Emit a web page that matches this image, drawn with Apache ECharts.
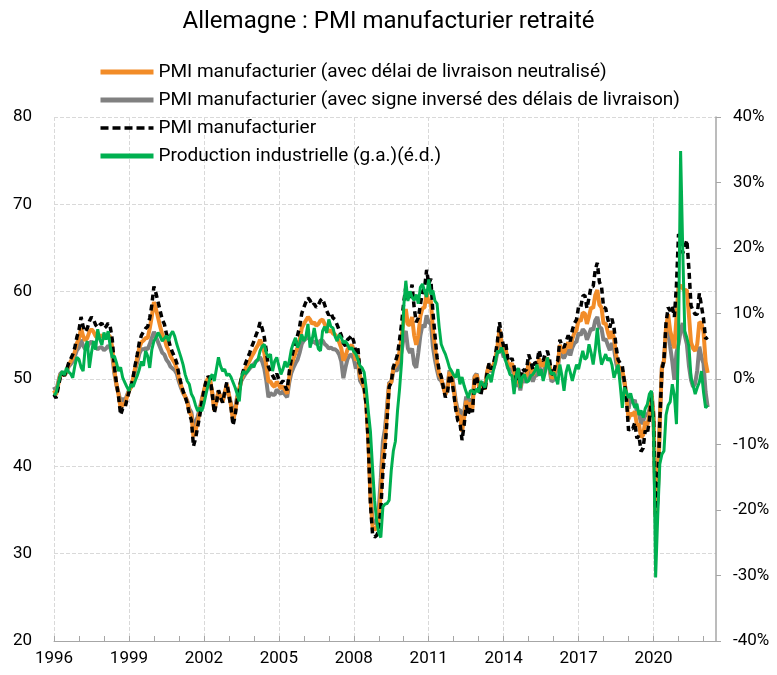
<!DOCTYPE html>
<html><head><meta charset="utf-8">
<script src="https://cdn.jsdelivr.net/npm/echarts@6/dist/echarts.min.js"></script>
<style>html,body{margin:0;padding:0;background:#fff}#c{width:777px;height:675px}</style>
</head><body><div id="c"></div>
<script>
const FONT = "Roboto, 'Liberation Sans', sans-serif";
// Monthly categories: March 1996 .. September 2022
const startYear = 1996, startMonth = 3, nMonths = 319;
const months = [];
for (let i = 0; i < nMonths; i++) { const m = startMonth - 1 + i; months.push((startYear + Math.floor(m / 12)) + '-' + String(m % 12 + 1).padStart(2, '0')); }
const tickYears = ['1996','1999','2002','2005','2008','2011','2014','2017','2020'];
const leftTicks = [20, 30, 40, 50, 60, 70, 80];
const rightTicks = [-40, -30, -20, -10, 0, 10, 20, 30, 40];

const names = [
  'PMI manufacturier (avec délai de livraison neutralisé)',
  'PMI manufacturier (avec signe inversé des délais de livraison)',
  'PMI manufacturier',
  'Production industrielle (g.a.)(é.d.)'
];

// PMI manufacturier (dashed), from Mar 1996
const pmi = [
48.2,47.8,49.0,50.2,50.6,50.4,51.0,51.8,52.3,52.8,
53.6,54.8,55.6,57.1,56.0,55.4,55.8,56.6,57.1,56.8,56.2,55.9,
56.2,56.4,55.8,56.0,56.4,56.0,54.5,51.4,49.5,48.0,45.9,46.6,
46.6,47.6,48.5,49.1,50.2,51.6,52.8,54.2,55.0,55.4,55.8,56.0,
57.0,58.5,60.6,59.8,58.8,57.8,56.8,56.3,55.2,54.5,53.6,53.0,
52.5,51.8,50.5,49.5,48.6,48.0,47.2,46.0,45.3,42.3,43.2,44.5,
45.8,47.3,48.6,49.7,50.3,50.1,48.4,46.1,47.2,48.7,47.9,47.3,
48.5,49.6,48.2,46.8,44.7,45.8,47.6,48.8,50.2,51.0,51.8,52.4,
53.0,53.7,54.3,55.0,55.6,56.5,55.8,54.8,53.2,51.4,50.9,50.4,
50.0,50.6,50.0,49.5,49.8,49.2,48.7,50.8,52.3,53.3,54.2,55.0,
56.0,57.5,58.2,58.8,59.3,59.0,58.4,58.6,58.2,58.5,59.0,59.2,
58.5,57.8,57.3,57.6,57.0,56.8,56.2,55.6,55.0,54.1,53.8,54.5,
54.7,55.0,54.3,53.0,53.5,50.8,50.0,49.1,47.0,42.5,35.7,32.3,
31.9,32.1,32.6,35.2,39.4,41.8,45.4,49.1,49.6,51.4,52.0,52.8,
54.5,56.4,58.8,60.5,59.0,59.5,60.8,58.2,56.5,57.0,58.5,60.0,
60.4,62.5,60.9,61.5,57.7,55.0,52.5,51.0,50.3,49.1,47.9,48.4,
50.5,50.0,48.4,46.5,45.2,45.0,43.0,44.7,47.0,46.0,46.8,46.2,
49.8,50.3,49.0,48.1,49.4,48.6,50.7,51.8,51.1,51.7,52.7,54.3,
56.5,54.8,53.7,54.1,52.3,52.0,52.4,51.4,49.9,51.4,49.5,51.2,
50.9,51.1,52.8,52.1,51.1,51.9,51.8,53.3,52.3,52.1,52.9,53.2,
52.3,50.5,50.7,51.8,52.1,54.5,53.8,53.6,54.3,55.0,54.3,55.6,
56.4,56.8,58.3,58.2,59.5,59.6,58.1,59.3,60.6,60.6,62.5,63.3,
61.1,60.6,58.2,58.1,56.9,55.9,56.9,55.9,53.7,52.2,51.8,51.5,
49.7,47.6,44.1,44.4,44.3,45.0,43.2,43.5,41.7,42.1,44.1,43.7,
45.3,48.0,45.4,34.5,36.6,45.2,51.0,52.2,56.4,58.2,57.8,58.3,
57.1,60.7,66.6,66.2,64.4,65.1,65.9,62.6,58.4,57.8,57.4,57.4,
59.8,58.4,56.9,54.6,54.8
];

// PMI with delivery times neutralised (orange)
const pmiNeutral = [
48.7,48.2,49.3,50.4,50.7,50.4,50.9,51.6,52.0,52.4,
53.1,54.1,54.6,55.8,54.9,54.4,54.7,55.4,55.7,55.4,54.9,54.7,
54.9,55.0,54.6,54.8,55.1,54.8,53.6,51.0,49.4,48.2,46.7,47.2,
47.0,47.9,48.6,49.1,50.1,51.3,52.4,53.6,54.2,54.4,54.7,54.7,
55.8,57.2,58.8,58.0,57.0,56.0,55.1,54.7,53.8,53.3,52.6,52.2,
51.8,51.2,50.1,49.3,48.5,48.0,47.4,46.3,45.8,43.4,44.1,45.1,
46.2,47.5,48.6,49.6,50.1,49.9,48.4,46.4,47.4,48.6,47.9,47.4,
48.4,49.4,48.2,47.0,45.2,46.2,47.8,48.8,50.0,50.6,51.2,51.7,
52.1,52.6,53.0,53.5,53.9,54.5,53.9,53.0,51.5,49.7,49.7,49.3,
49.1,49.7,49.3,48.9,49.2,48.7,48.3,50.2,51.5,52.3,53.0,53.6,
54.5,55.8,56.3,56.7,57.1,56.8,56.3,56.5,56.1,56.3,56.7,56.8,
56.3,55.8,55.4,55.6,55.2,55.1,54.7,54.2,53.5,52.1,52.6,53.4,
53.7,53.9,53.3,52.1,52.7,50.3,49.7,49.0,47.1,43.0,36.5,33.1,
32.7,33.0,33.9,37.0,41.2,43.1,46.2,49.4,49.6,51.2,51.5,51.9,
53.2,54.8,56.8,58.0,56.2,56.2,57.1,55.0,53.9,55.0,57.2,58.1,
58.2,59.9,58.7,59.0,55.7,53.6,51.8,50.5,50.1,49.1,48.2,48.8,
50.8,50.3,48.8,47.0,45.8,45.8,44.0,45.5,47.5,46.5,47.3,46.6,
50.1,50.5,49.3,48.4,49.6,48.8,50.7,51.7,51.0,51.5,52.3,53.7,
55.7,54.1,53.1,53.4,51.8,51.5,51.8,50.9,49.5,50.8,49.1,50.6,
50.3,50.4,51.9,51.3,50.4,51.2,51.1,52.4,51.6,51.5,52.2,52.4,
51.7,50.1,50.3,51.3,51.6,53.9,53.2,53.0,53.6,54.2,53.5,54.6,
55.3,55.6,56.8,56.6,57.6,57.5,56.3,57.2,58.2,58.1,59.6,60.2,
58.5,58.2,56.3,56.4,55.4,54.6,55.5,54.7,52.8,51.5,51.2,51.0,
49.7,47.9,45.4,46.1,45.8,46.3,44.7,44.8,43.3,43.6,45.1,44.7,
45.9,48.3,45.7,34.4,36.4,45.2,51.2,52.1,55.9,57.4,55.5,54.6,
53.5,57.0,60.6,60.7,60.4,60.1,60.2,57.3,54.2,53.5,53.2,54.0,
56.5,56.4,55.4,52.0,50.7
];

// PMI with inverted sign of delivery times (grey)
const pmiInverted = [
49.1,48.6,49.6,50.6,50.8,50.4,50.8,51.4,51.7,52.0,
52.6,53.3,53.6,54.5,53.8,53.4,53.6,54.1,54.3,54.0,53.6,53.4,
53.6,53.6,53.3,53.5,53.8,53.6,52.7,50.6,49.3,48.4,47.4,47.8,
47.4,48.1,48.7,49.1,49.9,51.0,51.9,52.9,53.4,53.4,53.5,53.4,
54.0,54.7,55.4,54.8,54.2,53.6,53.0,52.8,52.2,51.9,51.4,51.2,
51.0,50.6,49.7,49.0,48.4,48.0,47.5,46.6,46.2,44.5,45.0,45.7,
46.6,47.7,48.6,49.4,49.8,49.7,48.4,46.7,47.5,48.5,47.9,47.5,
48.3,49.2,48.2,47.2,45.7,46.6,48.0,48.8,49.8,50.2,50.6,50.9,
51.2,51.5,51.7,52.0,52.2,52.5,52.0,51.2,49.8,47.9,48.4,48.2,
48.2,48.8,48.5,48.3,48.6,48.2,47.9,49.6,50.7,51.3,51.8,52.2,
53.0,54.0,54.4,54.6,54.8,54.5,54.2,54.3,54.0,54.1,54.4,54.4,
54.0,53.8,53.5,53.6,53.4,53.4,53.2,52.8,52.0,50.1,51.3,52.3,
52.7,52.8,52.3,51.2,51.9,49.8,49.4,48.9,47.2,43.5,37.2,33.8,
33.4,33.9,35.1,38.7,42.9,44.3,46.9,49.6,49.6,50.9,51.0,51.0,
52.0,53.2,54.8,55.5,53.5,53.0,53.5,51.7,51.3,53.0,55.0,56.2,
55.9,57.3,56.4,56.5,53.7,52.2,51.0,50.0,49.8,49.1,48.4,49.2,
51.0,50.6,49.2,47.5,46.4,46.5,45.0,46.2,48.0,47.0,47.8,47.0,
50.3,50.6,49.5,48.7,49.7,48.9,50.7,51.5,50.8,51.2,51.9,53.1,
54.9,53.4,52.5,52.7,51.3,51.0,51.2,50.4,49.1,50.2,48.7,50.0,
49.7,49.7,51.0,50.5,49.7,50.4,50.4,51.5,50.8,50.8,51.4,51.6,
51.1,49.7,49.9,50.8,51.1,53.3,52.6,52.4,52.9,53.4,52.7,53.6,
54.1,54.3,55.3,55.0,55.7,55.4,54.5,55.1,55.8,55.6,56.7,57.1,
55.9,55.8,54.4,54.6,53.9,53.3,54.1,53.5,51.9,50.8,50.6,50.5,
49.7,48.1,46.6,47.8,47.3,47.6,46.2,46.1,44.9,45.1,46.1,45.7,
46.5,48.5,45.9,34.2,36.1,45.2,51.4,52.0,55.4,56.6,53.7,52.0,
49.9,53.0,54.0,55.5,56.4,55.0,54.0,51.5,49.9,49.1,49.5,51.0,
53.7,52.5,51.8,48.5,46.8
];

// Industrial production, % y/y (right axis, green)
const indProd = [
-2.5,-2.1,-0.8,0.5,1.2,0.6,1.7,1.1,0.8,0.2,
2.0,3.3,3.0,1.8,1.2,4.8,5.8,1.7,4.0,5.8,4.5,7.6,
6.0,5.2,7.1,6.0,7.3,5.0,3.3,3.5,2.5,1.2,1.8,0.2,
-0.5,-1.2,-1.8,-0.8,-1.2,-0.3,0.5,1.5,2.7,2.0,4.3,3.5,
1.7,4.5,5.8,6.3,7.1,6.5,5.8,6.2,6.6,5.8,6.8,7.3,
6.5,5.3,4.3,3.3,2.2,0.7,-0.3,-0.8,-2.3,-2.9,-4.0,-4.9,
-4.4,-4.9,-3.8,-2.3,-1.0,0.2,0.7,-0.3,1.5,3.3,2.0,1.2,
1.5,0.5,0.8,0.3,-0.5,-1.3,-2.3,-3.4,0.2,1.2,0.8,1.2,
1.7,2.2,1.8,2.7,3.0,4.3,5.0,5.3,4.0,3.3,3.8,1.2,
2.7,3.3,2.0,0.7,1.5,2.7,1.8,2.7,4.5,5.5,6.3,4.8,
5.5,6.8,5.8,6.5,8.4,4.8,6.0,7.8,6.0,4.6,4.3,7.3,
8.0,7.0,9.1,8.0,7.8,6.5,5.8,6.8,6.3,5.5,5.8,5.3,
4.5,4.8,4.2,3.8,3.0,2.0,1.7,1.0,-1.5,-5.0,-8.0,-13.5,
-18.5,-21.7,-23.5,-24.2,-19.5,-19.1,-19.0,-18.5,-14.0,-11.0,-9.5,-4.9,
-1.5,2.7,11.0,15.0,11.9,13.4,12.5,12.0,12.9,11.5,14.0,14.5,
13.4,12.5,15.2,12.9,13.5,11.9,11.5,8.0,5.3,4.5,3.8,2.8,
1.7,1.2,0.6,0.2,1.5,-0.8,0.3,-1.0,-2.0,-2.9,-1.8,-1.8,
-2.3,-1.5,-2.0,-0.3,-0.8,-1.3,0.2,0.7,-0.5,1.2,2.5,4.3,
4.0,4.8,3.8,2.7,1.8,0.7,0.5,-2.3,0.5,1.7,-1.4,0.3,
0.7,-0.5,-0.3,0.5,0.7,1.2,2.2,0.5,1.5,-0.3,1.0,3.3,
1.5,0.7,1.0,0.2,-0.8,2.2,0.5,-1.8,1.0,2.2,1.0,-0.3,
1.0,2.2,1.5,3.0,4.3,3.0,3.3,5.3,4.0,2.2,4.5,7.8,
4.3,2.2,3.0,3.8,2.8,3.2,2.2,0.2,1.2,2.2,-1.0,-4.4,
-1.3,-2.0,-2.9,-2.2,-3.5,-4.4,-3.8,-5.5,-4.8,-5.9,-4.5,-3.9,
-2.3,-1.8,-6.9,-30.3,-21.0,-13.0,-11.5,-11.0,-5.5,-4.0,-3.5,-0.8,
-2.5,-6.9,6.0,34.8,20.0,7.3,6.3,5.0,0.2,-1.0,-2.3,-1.3,
-0.5,1.2,-2.0,-4.4,-4.0
];

const chart = echarts.init(document.getElementById('c'), null, {renderer: 'canvas'});
const axisTxt = {color: '#000', fontSize: 17, fontFamily: FONT};
chart.setOption({
  animation: false,
  backgroundColor: '#fff',
  textStyle: {fontFamily: FONT},
  title: {
    text: 'Allemagne : PMI manufacturier retraité',
    left: 'center', top: 5,
    textStyle: {fontSize: 24, fontWeight: 'normal', color: '#000', fontFamily: FONT}
  },
  legend: {
    orient: 'vertical', left: 93, top: 55,
    itemWidth: 53, itemHeight: 14, itemGap: 4,
    data: [
      {name: names[0]},
      {name: names[1]},
      {name: names[2], lineStyle: {width: 3.5, type: [8, 4]}},
      {name: names[3]}
    ],
    itemStyle: {opacity: 0},
    lineStyle: {width: 5},
    textStyle: {fontSize: 19, lineHeight: 24, color: '#000', fontFamily: FONT}
  },
  grid: {left: 54, right: 61, top: 117, bottom: 34, containLabel: false},
  xAxis: {
    type: 'category', data: months, boundaryGap: false,
    axisLine: {onZero: false, lineStyle: {color: '#a6a6a6', width: 1}},
    axisTick: {show: true, inside: true, length: 5, interval: (i) => i % 12 === 0, lineStyle: {color: '#a6a6a6'}},
    axisLabel: Object.assign({interval: (i) => i % 36 === 0, formatter: (v) => v.slice(0, 4), margin: 9}, axisTxt),
    splitLine: {show: true, interval: (i) => i % 36 === 0, lineStyle: {color: '#d9d9d9', type: 'dashed', width: 1}}
  },
  yAxis: [
    {
      type: 'value', position: 'left', min: leftTicks[0], max: leftTicks[leftTicks.length - 1], interval: 10,
      axisLine: {show: false}, axisTick: {show: false},
      axisLabel: Object.assign({margin: 22}, axisTxt),
      splitLine: {show: true, lineStyle: {color: '#d9d9d9', type: 'dashed', width: 1}}
    },
    {
      type: 'value', position: 'right', min: rightTicks[0], max: rightTicks[rightTicks.length - 1], interval: 10,
      axisLine: {show: true, onZero: false, lineStyle: {color: '#a6a6a6', width: 1.5}},
      axisTick: {show: true, inside: false, length: 5, lineStyle: {color: '#a6a6a6'}},
      axisLabel: Object.assign({margin: 17, formatter: '{value}%'}, axisTxt),
      splitLine: {show: false}
    }
  ],
  series: [
    {name: names[1], type: 'line', data: pmiInverted, symbol: 'none', yAxisIndex: 0,
     lineStyle: {color: '#808080', width: 4}, itemStyle: {color: '#808080'}},
    {name: names[0], type: 'line', data: pmiNeutral, symbol: 'none', yAxisIndex: 0,
     lineStyle: {color: '#F28C28', width: 4}, itemStyle: {color: '#F28C28'}},
    {name: names[2], type: 'line', data: pmi, symbol: 'none', yAxisIndex: 0,
     lineStyle: {color: '#000', width: 3.5, type: [6, 4]}, itemStyle: {color: '#000'}},
    {name: names[3], type: 'line', data: indProd, symbol: 'none', yAxisIndex: 1,
     lineStyle: {color: '#00B050', width: 3}, itemStyle: {color: '#00B050'}}
  ]
});
</script>
</body></html>
